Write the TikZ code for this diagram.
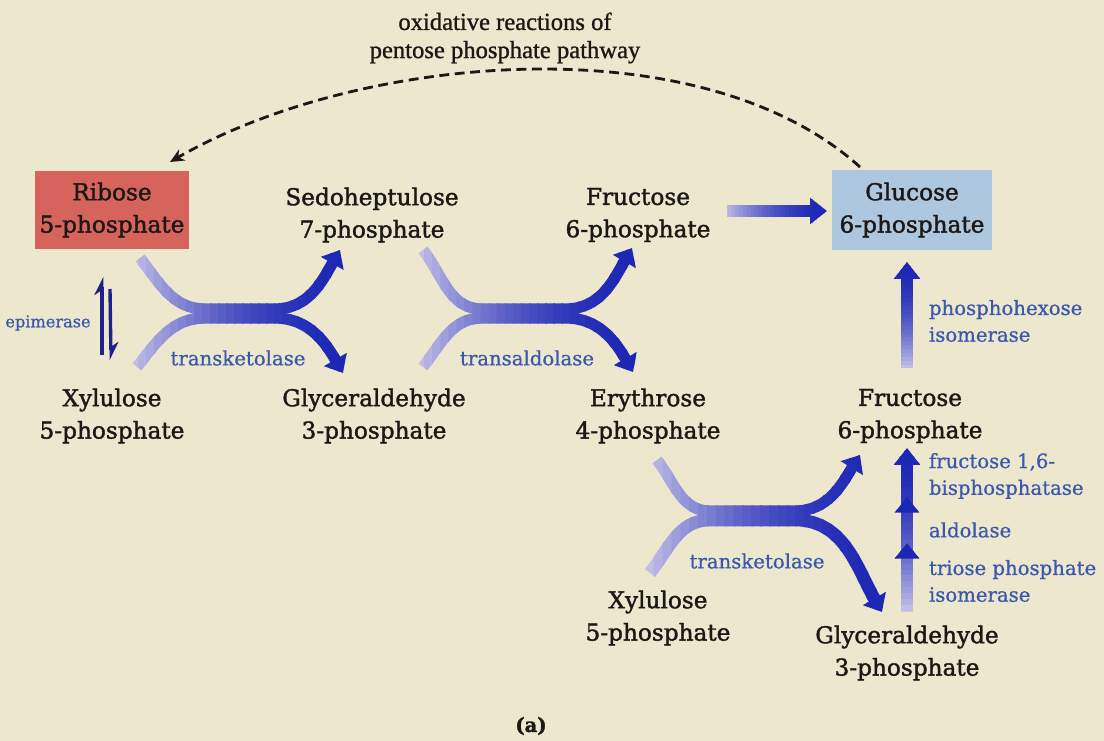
\documentclass[tikz,border=0pt]{standalone}
\usepackage{fontspec}
\setmainfont{DejaVu Serif}[FakeBold=0.8]
\newfontfamily\molfont{DejaVu Serif}[FakeBold=1.6]
\newfontfamily\titlefont{Liberation Serif}[FakeBold=1]
\usetikzlibrary{arrows.meta,decorations.markings}

\definecolor{paper}{RGB}{237,231,206}
\definecolor{ribred}{RGB}{214,100,92}
\definecolor{glcblue}{RGB}{172,199,222}
\definecolor{arrblue}{RGB}{28,38,180}
\definecolor{palelav}{RGB}{204,200,234}
\definecolor{harpblue}{RGB}{30,32,140}
\definecolor{enzblue}{RGB}{58,88,172}
\definecolor{ink}{RGB}{28,24,22}

% colour ramp: repeat the paths in thin clipped bands, pale -> dark
\newcommand{\hfade}[3]{%
  \foreach \i in {0,...,29}{%
    \pgfmathsetmacro{\fadepct}{100*(1-(1-\i/29)^2)}%
    \colorlet{fadeink}{arrblue!\fadepct!palelav}%
    \begin{scope}
      \clip ({#1+(#2-#1)*\i/30},0) rectangle ({#1+(#2-#1)*(\i+1.2)/30},741);
      #3
    \end{scope}}}
\newcommand{\vfade}[3]{%
  \foreach \i in {0,...,29}{%
    \pgfmathsetmacro{\fadepct}{100*(1-(1-\i/29)^2)}%
    \colorlet{fadeink}{arrblue!\fadepct!palelav}%
    \begin{scope}
      \clip (0,{#1+(#2-#1)*\i/30}) rectangle (1104,{#1+(#2-#1)*(\i+1.2)/30});
      #3
    \end{scope}}}

\tikzset{
  mol/.style={align=center, text=ink, font=\molfont\fontsize{16.5}{23}\selectfont},
  enz/.style={text=enzblue, font=\fontsize{14}{19}\selectfont},
  swoop/.style={draw=fadeink, line width=8pt, -{Triangle[length=11pt, width=18pt]}},
  push/.style={draw=fadeink, line width=9pt, -{Triangle[length=12pt, width=18pt]}},
  harp/.style={draw=harpblue, line width=2.4pt, -{Stealth[harpoon, length=11pt, width=11pt]}},
  colhead/.tip={Triangle[length=11pt, width=17pt]}
}

\begin{document}
\begin{tikzpicture}[x=0.025cm, y=-0.025cm]
  \fill[paper] (0,0) rectangle (1104,741);

  % title and caption
  \node[align=center, text=ink, font=\titlefont\fontsize{17.5}{20}\selectfont] (ttl) at (505,38)
    {oxidative reactions of\\pentose phosphate pathway};
  \node[text=ink, font=\molfont\bfseries\fontsize{14}{16}\selectfont] (cap) at (531,726) {(a)};

  % top row
  \node[mol, fill=ribred, minimum width=3.725cm, minimum height=1.95cm] (rib) at (112,210) {Ribose\\5-phosphate};
  \node[mol] (sed) at (372,215) {Sedoheptulose\\7-phosphate};
  \node[mol] (fruA) at (638,215) {Fructose\\6-phosphate};
  \node[mol, fill=glcblue, minimum width=3.975cm, minimum height=1.975cm] (glc) at (912,210) {Glucose\\6-phosphate};

  % middle row
  \node[mol] (xylA) at (112,416) {Xylulose\\5-phosphate};
  \node[mol] (glyA) at (374,416) {Glyceraldehyde\\3-phosphate};
  \node[mol] (ery) at (648,416) {Erythrose\\4-phosphate};
  \node[mol] (fruB) at (910,416) {Fructose\\6-phosphate};

  % bottom row
  \node[mol] (xylB) at (658,618) {Xylulose\\5-phosphate};
  \node[mol] (glyB) at (907,653) {Glyceraldehyde\\3-phosphate};

  % enzymes
  \node[enz, font=\fontsize{11.5}{14}\selectfont] (epi) at (48,323) {epimerase};
  \node[enz] (tkA) at (238,358) {transketolase};
  \node[enz] (tal) at (527,358) {transaldolase};
  \node[enz] (tkB) at (757,561) {transketolase};
  \node[enz, anchor=west, align=left] (phi) at (924,321) {phosphohexose\\isomerase};
  \node[enz, anchor=west, align=left] (fbp) at (924,476) {fructose 1,6-\\bisphosphatase};
  \node[enz, anchor=west] (ald) at (924,530) {aldolase};
  \node[enz, anchor=west, align=left] (tpi) at (924,581) {triose phosphate\\isomerase};

  % flat stretch where the two arcs run together
  \coordinate (aU1) at (205,309);  \coordinate (aU2) at (275,309);
  \coordinate (aL1) at (205,318);  \coordinate (aL2) at (275,318);
  \coordinate (bU1) at (482,309);  \coordinate (bU2) at (566,309);
  \coordinate (bL1) at (482,318);  \coordinate (bL2) at (566,318);
  \coordinate (cU1) at (710,511);  \coordinate (cU2) at (795,511);
  \coordinate (cL1) at (710,520);  \coordinate (cL2) at (795,520);

  % dashed return
  \draw[ink, line width=2pt, dash pattern=on 7pt off 4pt, -{Stealth[length=10pt, width=9pt]}]
    ([shift={(-52,-43)}]glc.center) to[out=138, in=30, looseness=0.8] ([shift={(58,-48)}]rib.center);

  % epimerase
  \draw[harp] ([shift={(-10,-61)}]xylA.center) -- ([shift={(-10,67)}]rib.center);
  \draw[harp] ([shift={(-2,79)}]rib.center) -- ([shift={(-1,-56)}]xylA.center);

  % transketolase
  \hfade{122}{362}{
    \draw[swoop] ([shift={(28,48)}]rib.center) to[out=-52, in=180] (aU1) -- (aU2) to[out=0, in=-120] ([shift={(-32,35)}]sed.center);
    \draw[swoop] ([shift={(25,-49)}]xylA.center) to[out=52, in=180] (aL1) -- (aL2) to[out=0, in=120] ([shift={(-31,-43)}]glyA.center);
  }

  % transaldolase
  \hfade{408}{650}{
    \draw[swoop] ([shift={(51,35)}]sed.center) to[out=-52, in=180] (bU1) -- (bU2) to[out=0, in=-120] ([shift={(-6,33)}]fruA.center);
    \draw[swoop] ([shift={(49,-49)}]glyA.center) to[out=52, in=180] (bL1) -- (bL2) to[out=0, in=120] ([shift={(-15,-44)}]ery.center);
  }

  % transketolase, lower
  \hfade{636}{902}{
    \draw[swoop] ([shift={(9,44)}]ery.center) to[out=-52, in=180] (cU1) -- (cU2) to[out=0, in=-122] ([shift={(-50,39)}]fruB.center);
    \draw[swoop, line width=9pt] ([shift={(-8,-45)}]xylB.center) to[out=52, in=180] (cL1) -- (cL2) to[out=0, in=120] ([shift={(-25,-41)}]glyB.center);
  }

  % to glucose 6-phosphate
  \hfade{720}{835}{
    \draw[push] ([shift={(89,-4)}]fruA.center) -- ([shift={(-85,1)}]glc.center);
  }
  \vfade{372}{255}{
    \draw[push] ([shift={(-3,-48)}]fruB.center) -- ([shift={(-5,52)}]glc.center);
  }
  \vfade{616}{440}{
    \draw[push, line width=8pt, postaction={decorate}, decoration={markings,
        mark=at position 0.42 with {\arrow[arrblue]{colhead}},
        mark=at position 0.70 with {\arrow[arrblue]{colhead}}}]
      ([shift={(0,-41)}]glyB.center) -- ([shift={(-3,32)}]fruB.center);
  }
\end{tikzpicture}
\end{document}
